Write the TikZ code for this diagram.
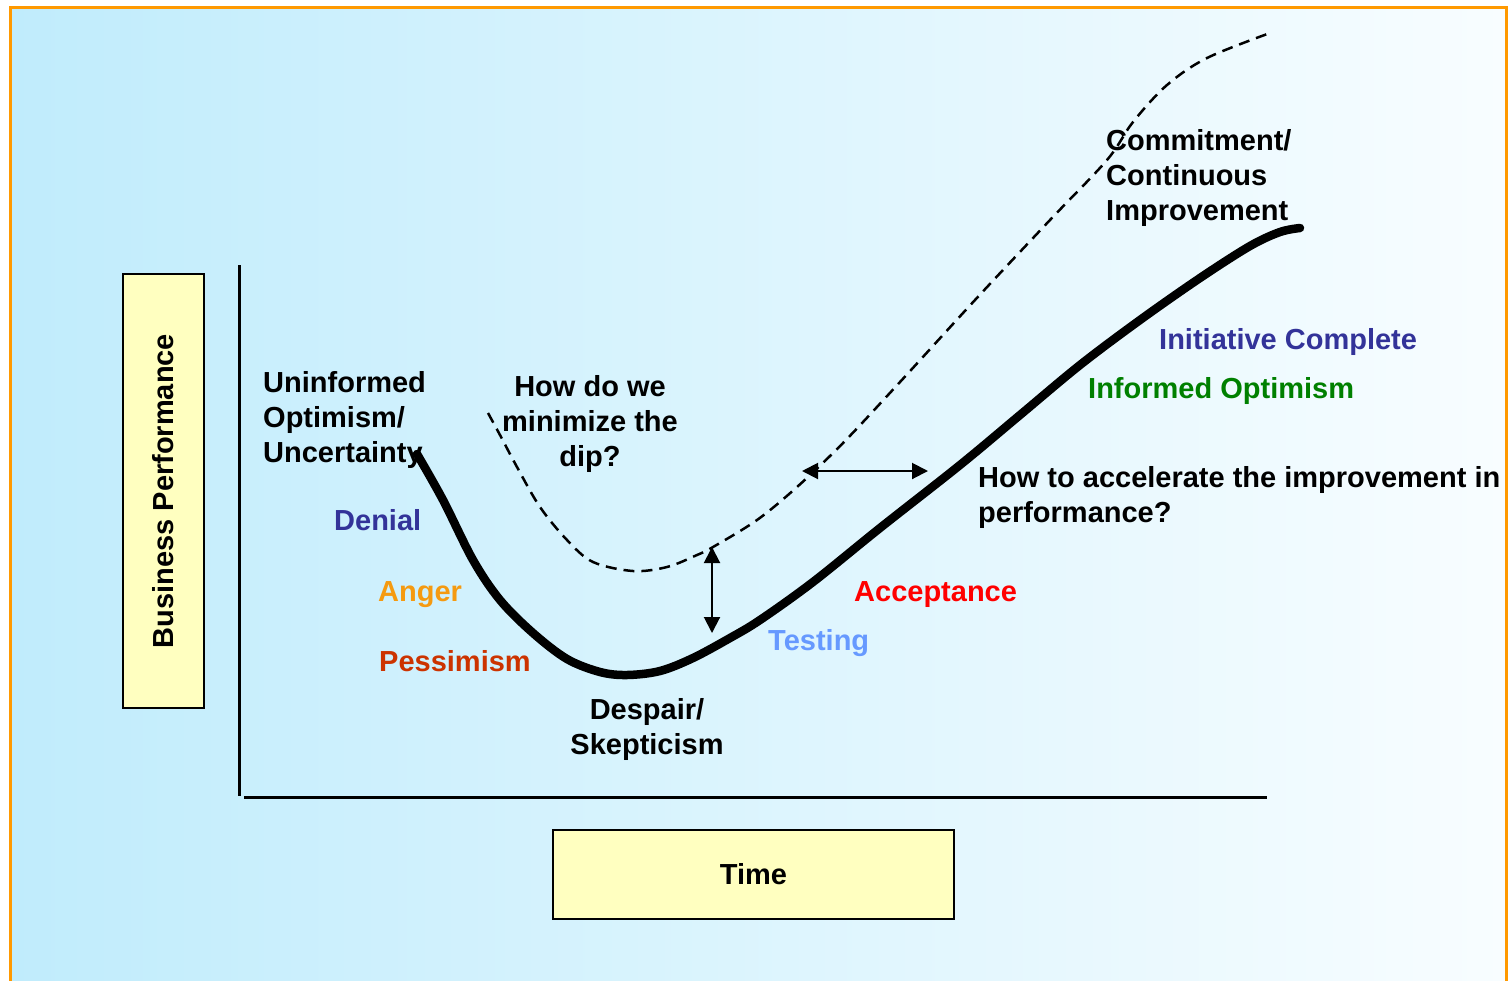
\documentclass[tikz,border=0pt]{standalone}
\usepackage{fontspec}
\setmainfont{Liberation Sans}
\usetikzlibrary{arrows.meta}
\definecolor{bgleft}{HTML}{C0ECFC}
\definecolor{bgright}{HTML}{F8FDFF}
\definecolor{frameorange}{HTML}{FF9900}
\definecolor{boxyellow}{HTML}{FFFFC0}
\definecolor{denialblue}{HTML}{333399}
\definecolor{optgreen}{HTML}{008000}
\definecolor{angerorange}{HTML}{F59A10}
\definecolor{pessred}{HTML}{CC3300}
\definecolor{acceptred}{HTML}{FF0000}
\definecolor{testblue}{HTML}{6699FF}
\begin{document}
\begin{tikzpicture}[x=1pt,y=-1pt,
  txt/.style={font=\fontsize{29}{35}\selectfont\bfseries, inner sep=0pt},
  lbl/.style={txt, anchor=base west},
  labelbox/.style={draw=black, line width=2pt, fill=boxyellow, inner sep=0pt, txt},
  axis/.style={line width=3pt},
  gaparrow/.style={line width=2pt, {Triangle[length=16pt,width=16pt]}-{Triangle[length=16pt,width=16pt]}},
  idealcurve/.style={line width=2.5pt, dash pattern=on 11pt off 7pt},
  realcurve/.style={line width=8.5pt, line cap=round, line join=round}
]
\clip (0,0) rectangle (1511,980);
\fill[white] (0,0) rectangle (1511,980);
\shade[left color=bgleft, right color=bgright] (10,7) rectangle (1506,990);
\draw[frameorange, line width=3pt] (10,7) rectangle (1506,1000);

% axis label boxes
\node[labelbox, minimum width=434pt, minimum height=81pt, rotate=90] (ylabel) at (163,491) {Business Performance};
\node[labelbox, minimum width=401pt, minimum height=89pt] (xlabel) at (753.5,874.5) {Time};

% axes
\coordinate (ytop) at (239,265);
\coordinate (ybot) at (239,796);
\coordinate (xleft) at (244,797);
\coordinate (xright) at (1267,797);
\draw[axis] (ytop) -- (ybot);
\draw[axis] (xleft) -- (xright);

% dashed ideal curve
\draw[idealcurve] plot[smooth, tension=0.55] coordinates {
  (488,413) (500,435) (517,467) (540,507) (567,540) (593,562) (633,571)
  (667,567) (697,555) (713,547) (757,520) (797,487) (843,443) (900,382)
  (975,300) (1050,220) (1107,160) (1133,122) (1167,85) (1207,58) (1270,33)};

% actual performance curve
\draw[realcurve] plot[smooth, tension=0.55] coordinates {
  (417,454) (443,500) (473,560) (500,600) (533,633) (567,659) (600,672)
  (627,675) (660,671) (693,658) (730,638) (760,620) (813,582) (880,528)
  (960,465) (1020,415) (1080,365) (1140,320) (1200,278) (1250,246)
  (1280,232) (1300,228)};

% gap arrows
\coordinate (vtop) at (712,547);
\coordinate (vbot) at (712,633);
\coordinate (hleft) at (802,471);
\coordinate (hright) at (928,471);
\draw[gaparrow] (vtop) -- (vbot);
\draw[gaparrow] (hleft) -- (hright);

% black multi-line texts
\node[txt, anchor=north west, align=left] (uninformed) at (263,371) {Uninformed\\Optimism/\\Uncertainty};
\node[txt, anchor=north, align=center] (howdip) at (590,375) {How do we\\minimize the\\dip?};
\node[txt, anchor=north west, align=left] (commit) at (1106,129) {Commitment/\\Continuous\\Improvement};
\node[txt, anchor=north west, align=left] (accel) at (978,466) {How to accelerate the improvement in\\performance?};
\node[txt, anchor=north, align=center] (despair) at (647,698) {Despair/\\Skepticism};

% coloured stage labels
\node[lbl, text=denialblue] (denial) at (334,530) {Denial};
\node[lbl, text=angerorange] (anger) at (378,601) {Anger};
\node[lbl, text=pessred] (pessimism) at (379,671) {Pessimism};
\node[lbl, text=testblue] (testing) at (768,650) {Testing};
\node[lbl, text=acceptred] (acceptance) at (854,601) {Acceptance};
\node[lbl, text=optgreen] (informed) at (1088,398) {Informed Optimism};
\node[lbl, text=denialblue] (initiative) at (1159,349) {Initiative Complete};
\end{tikzpicture}
\end{document}
